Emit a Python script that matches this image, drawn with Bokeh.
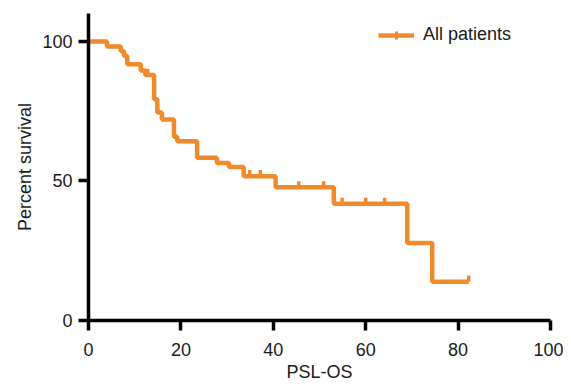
import numpy as np
from bokeh.plotting import figure
from bokeh.models import Legend, LegendItem, FixedTicker, ColumnDataSource
from bokeh.embed import file_html
from bokeh.resources import INLINE

# Kaplan-Meier step data
times = [0, 4.0, 7.0, 7.7, 8.4, 11.3, 12.3, 14.2, 14.9, 15.9, 18.5, 19.2, 23.5, 27.8, 30.4, 33.6, 40.5, 53.1, 69.0, 74.4]
surv = [100, 98.2, 96.5, 94.8, 91.8, 89.6, 88.0, 79.3, 74.5, 72.0, 65.8, 64.2, 58.3, 56.4, 55.0, 51.7, 47.7, 41.8, 27.8, 13.9]
end_time = 82.3

# censored observations
cens_t = [12.8, 34.9, 37.2, 45.5, 50.9, 54.9, 60.0, 64.1, 82.3]
cens_s = [88.0, 51.7, 51.7, 47.7, 47.7, 41.8, 41.8, 41.8, 13.9]

x_ticks = [0, 20, 40, 60, 80, 100]
y_ticks = [0, 50, 100]

ORANGE = "#F08A2A"
FONT = "Liberation Sans"
TXT = "#1a1a1a"
FS = "18px"

p = figure(width=563, height=384, x_range=(0, 100), y_range=(0, 110),
           output_backend="svg", toolbar_location=None,
           min_border_left=88, min_border_right=13,
           min_border_top=13, min_border_bottom=63)
p.outline_line_color = None
p.grid.visible = False
p.background_fill_color = "white"

xs = times + [end_time]
ys = surv + [surv[-1]]
line_r = p.step(xs, ys, mode="after", line_color=ORANGE, line_width=4.5)

src = ColumnDataSource(dict(x=cens_t, y0=cens_s, y1=[s + 2.2 for s in cens_s]))
p.segment(x0="x", y0="y0", x1="x", y1="y1", source=src,
          line_color=ORANGE, line_width=3.5, line_cap="butt")

for ax in (p.xaxis[0], p.yaxis[0]):
    ax.axis_line_width = 3.5
    ax.axis_line_color = "black"
    ax.major_tick_line_width = 3.5
    ax.major_tick_line_color = "black"
    ax.major_tick_out = 10
    ax.major_tick_in = 0
    ax.minor_tick_line_color = None
    ax.major_label_text_font = FONT
    ax.major_label_text_font_size = FS
    ax.major_label_text_color = TXT
    ax.axis_label_text_font = FONT
    ax.axis_label_text_font_size = FS
    ax.axis_label_text_font_style = "normal"
    ax.axis_label_text_color = TXT

p.xaxis.ticker = FixedTicker(ticks=x_ticks)
p.yaxis.ticker = FixedTicker(ticks=y_ticks)
p.xaxis.axis_label = "PSL-OS"
p.yaxis.axis_label = "Percent survival"
p.xaxis.major_label_standoff = 12
p.xaxis.axis_label_standoff = 3
p.yaxis.major_label_standoff = 6
p.yaxis.axis_label_standoff = 4

# legend marker: a point outside the visible range, only drawn in the legend
leg_marker = p.scatter(x=[-50], y=[-50], marker="cross", size=9,
                       line_color=ORANGE, line_width=3)
legend = Legend(items=[LegendItem(label="All patients", renderers=[line_r, leg_marker])],
                location=(290, 275), padding=0, margin=0, spacing=0,
                glyph_width=36, glyph_height=20, label_height=20,
                label_standoff=9, border_line_color=None, background_fill_alpha=0,
                label_text_font=FONT, label_text_font_size=FS, label_text_color=TXT)
p.add_layout(legend)

open("out.html", "w").write(file_html(p, INLINE))
